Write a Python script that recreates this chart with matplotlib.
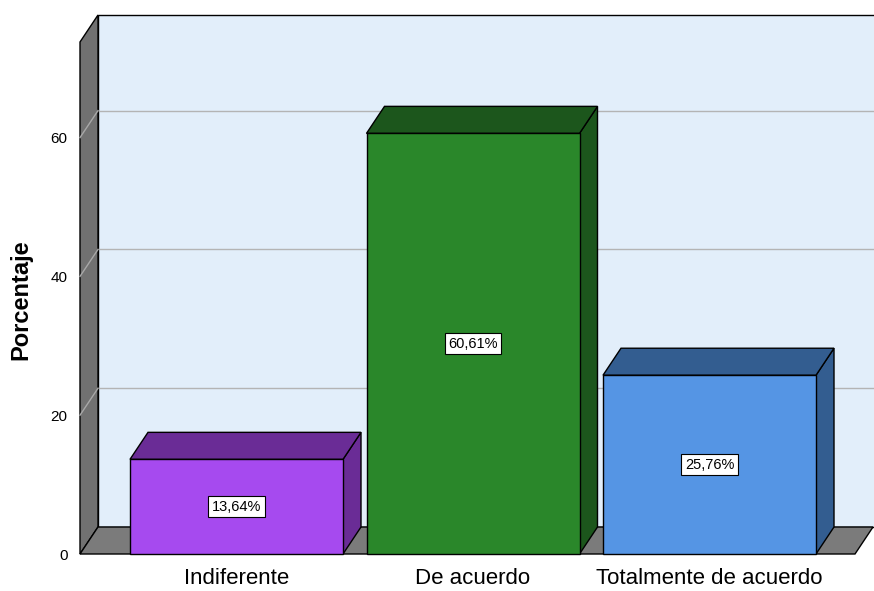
import matplotlib
matplotlib.use("Agg")
import matplotlib.pyplot as plt
from matplotlib.patches import Polygon

categories = ["Indiferente", "De acuerdo", "Totalmente de acuerdo"]
values = [13.64, 60.61, 25.76]
yticks = [0, 20, 40, 60]

front_colors = ["#A64AEF", "#2A872A", "#5595E4"]
shade_colors = ["#6A2C96", "#1C561C", "#335D90"]

FONT = ["Liberation Sans", "DejaVu Sans"]

W, H = 874, 591
fig = plt.figure(figsize=(W / 100, H / 100), dpi=100)

# front plane geometry in pixels
left_px, right_px, base_px, top_px = 80, 874, 554, 15
px_per_cat = 236.5
px_per_unit = 6.94
depth_dx, depth_dy = 18, 27  # 3d offset in pixels

ax = fig.add_axes([left_px / W, (H - base_px) / H,
                   (right_px - left_px) / W, (base_px - top_px) / H])
x_lo = (left_px - px_per_cat) / px_per_cat
x_hi = (right_px - px_per_cat) / px_per_cat
ax.set_xlim(x_lo, x_hi)
ax.set_ylim(0, (base_px - top_px) / px_per_unit)
DX = depth_dx / px_per_cat
DY = depth_dy / px_per_unit
y_top = (base_px - top_px - depth_dy) / px_per_unit
floor_right = (855 - px_per_cat) / px_per_cat

for s in ax.spines.values():
    s.set_visible(False)
ax.set_facecolor("none")


def poly(pts, fc, ec="black", lw=1.0, z=1):
    ax.add_patch(Polygon(pts, closed=True, facecolor=fc, edgecolor=ec,
                         linewidth=lw, zorder=z, clip_on=False,
                         joinstyle="miter"))


# back wall
poly([(x_lo + DX, DY), (x_hi + 0.01, DY), (x_hi + 0.01, y_top + DY),
      (x_lo + DX, y_top + DY)], "#E2EEFA", z=0.5)
# gridlines on back wall and side wall
for g in yticks[1:]:
    ax.plot([x_lo + DX, x_hi], [g + DY, g + DY], color="#B4B4B4",
            lw=1.0, zorder=0.8, clip_on=False)
# side wall
poly([(x_lo, 0), (x_lo, y_top), (x_lo + DX, y_top + DY), (x_lo + DX, DY)],
     "#717171", z=0.9)
for g in yticks[1:]:
    ax.plot([x_lo, x_lo + DX], [g, g + DY], color="#A8A8A8", lw=1.0,
            zorder=0.95, clip_on=False)
# floor
poly([(x_lo, 0), (floor_right, 0), (floor_right + DX, DY), (x_lo + DX, DY)],
     "#7B7B7B", z=0.9)

# bars
bw = 213 / px_per_cat
for i, (v, fc, sc) in enumerate(zip(values, front_colors, shade_colors)):
    xl, xr = i - bw / 2, i + bw / 2
    poly([(xr, 0), (xr, v), (xr + DX, v + DY), (xr + DX, DY)], sc, z=2)
    poly([(xl, v), (xr, v), (xr + DX, v + DY), (xl + DX, v + DY)], sc, z=2)
    poly([(xl, 0), (xr, 0), (xr, v), (xl, v)], fc, z=3)
    ax.text(i, v / 2, f"{v:.2f}%".replace(".", ","), ha="center",
            va="center", fontsize=10.5, family=FONT, zorder=4,
            bbox=dict(boxstyle="square,pad=0.25", fc="white", ec="black",
                      lw=0.8))

ax.set_yticks(yticks)
ax.set_yticklabels([str(t) for t in yticks], family=FONT, fontsize=11)
ax.set_xticks(range(len(categories)))
ax.set_xticklabels(categories, family=FONT, fontsize=16)
ax.tick_params(axis="y", length=0, pad=9)
ax.tick_params(axis="x", length=0, pad=10)

fig.text(21 / W, 1 - 300 / H, "Porcentaje", rotation=90, ha="center",
         va="center", fontsize=17, fontweight="bold", family=FONT)

fig.savefig("out.png", dpi=100)
